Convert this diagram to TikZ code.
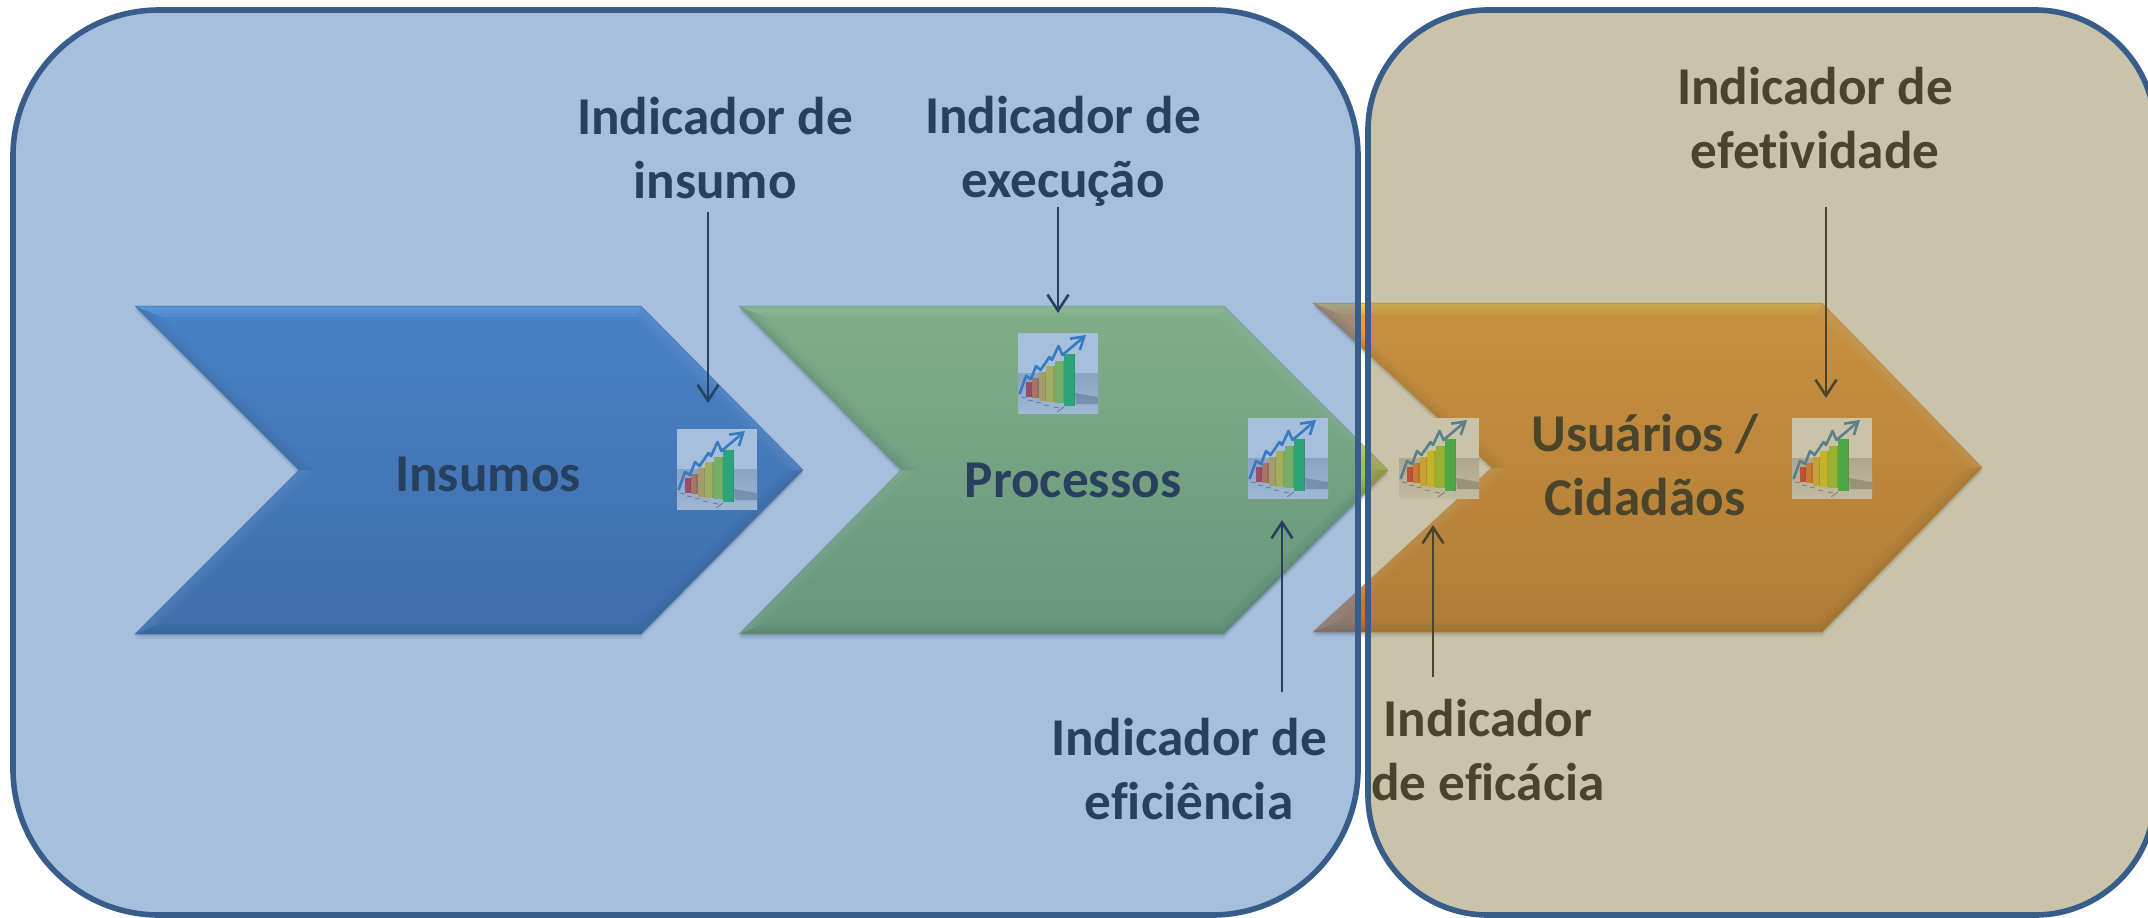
\documentclass[tikz,border=0pt]{standalone}
\usepackage{fontspec}
\setmainfont{Carlito}[Ligatures=CommonOff]
\usetikzlibrary{arrows.meta}
\definecolor{bordc}{HTML}{385D8A}
\definecolor{panelA}{HTML}{4F81BD}
\definecolor{panelB}{HTML}{948A54}
\definecolor{bluetop}{RGB}{69,131,211}\definecolor{bluebot}{RGB}{45,91,151}\definecolor{bluestrip}{RGB}{121,191,255}
\definecolor{greentop}{RGB}{181,221,81}\definecolor{greenbot}{RGB}{131,171,61}\definecolor{greenstrip}{RGB}{205,240,120}
\definecolor{orangetop}{RGB}{252,152,46}\definecolor{orangebot}{RGB}{208,112,26}\definecolor{orangestrip}{RGB}{252,222,86}
\definecolor{barA}{HTML}{E81818}\definecolor{barB}{HTML}{FF6A10}\definecolor{barC}{HTML}{FFB61A}
\definecolor{barD}{HTML}{F0DE00}\definecolor{barE}{HTML}{98DE10}\definecolor{barF}{HTML}{08C838}
\definecolor{trend}{RGB}{32,116,198}
\tikzset{
  lbl/.style={font=\fontsize{26.6}{32}\selectfont\bfseries,align=center,text=black,inner sep=0pt},
  pointer/.style={draw=black,line width=1.3pt,-{Straight Barb[length=8pt,width=10.5pt,line width=1.3pt]}},
  panel/.style={draw=bordc,line width=2.8pt},
}
% chevron: x0, xb, xtip, xnotch, ytop, ybot, colour prefix
\newcommand\chev[7]{%
  \pgfmathsetmacro\ymid{(#5+#6)/2}%
  \def\outl{(#1,#5) -- (#2,#5) -- (#3,\ymid) -- (#2,#6) -- (#1,#6) -- (#4,\ymid) -- cycle}%
  \fill[black,opacity=.09,shift={(0,5)}] \outl;
  \fill[black,opacity=.14,shift={(0,2.5)}] \outl;
  \shade[top color=#7top,bottom color=#7bot] \outl;
  \foreach \w/\op in {11/.05,7/.05,3.5/.05}{%
    \pgfmathsetmacro\ax{#1+2.414*\w}\pgfmathsetmacro\bx{#2-.414*\w}%
    \pgfmathsetmacro\tx{#3-1.414*\w}\pgfmathsetmacro\nx{#4+1.414*\w}%
    \pgfmathsetmacro\yt{#5+\w}\pgfmathsetmacro\yb{#6-\w}%
    \fill[#7strip,opacity=.3] (#1,#5) -- (#2,#5) -- (\bx,\yt) -- (\ax,\yt) -- cycle;
    \fill[white,opacity=\op] (#2,#5) -- (#3,\ymid) -- (\tx,\ymid) -- (\bx,\yt) -- cycle;
    \fill[black,opacity=\op] (#3,\ymid) -- (#2,#6) -- (\bx,\yb) -- (\tx,\ymid) -- cycle;
    \fill[black,opacity=\op] (#2,#6) -- (#1,#6) -- (\ax,\yb) -- (\bx,\yb) -- cycle;
    \fill[white,opacity=\op] (#1,#6) -- (#4,\ymid) -- (\nx,\ymid) -- (\ax,\yb) -- cycle;
    \fill[black,opacity=\op] (#4,\ymid) -- (#1,#5) -- (\ax,\yt) -- (\nx,\ymid) -- cycle;
  }%
  \draw[#7bot,line width=.5pt,opacity=.5] \outl;
}
% small chart picture, 80 x 80
\newcommand\chart[2]{%
  \begin{scope}[shift={(#1,#2)}]
    \fill[white] (0,0) rectangle (80,80);
    \shade[top color=black!22,bottom color=white!94!black] (0,40) rectangle (80,80);
    \fill[black!38] (57,60) -- (80,64) -- (80,71) -- (58,71) -- cycle;
    \foreach \xa/\xb/\ya/\yb/\cc in {8/14/49/64/barA,14/20.5/45/64.5/barB,20.5/28.3/39/68/barC,28.3/36.7/33/69/barD,36.7/46/28/70/barE,46/57.3/21/73/barF}{%
      \fill[\cc] (\xa,\ya) rectangle (\xb,\yb);
      \fill[black,opacity=.16] ({\xb-1.5},\ya) rectangle (\xb,\yb);
    }
    \foreach \xa/\ya in {3/64,10/67,18/69,26/72,36/74}{\draw[black!55,line width=.4pt] (\xa,\ya) -- ++(5,1);}
    \draw[black!55,line width=.4pt] (39,79) -- (46,74);
    \draw[draw=trend,line width=1.3pt,line join=round,
      -{Straight Barb[length=6pt,width=7.5pt,line width=1.3pt]}]
      (1.5,61) -- (8,43) -- (13,46) -- (18,33) -- (22.5,37) -- (31.5,24) -- (34,27) -- (40.5,13) -- (44.5,22) -- (68,2);
  \end{scope}%
}
\begin{document}
\begin{tikzpicture}[x=0.5pt,y=-0.5pt]
\useasboundingbox (0,0) rectangle (2148,917);
\clip (0,0) rectangle (2148,917);
\fill[white] (0,0) rectangle (2148,917);
\chev{135}{641}{803}{299}{306}{634}{blue}
\chev{739}{1224}{1388}{901}{306}{634}{green}
\chev{1313}{1822}{1982}{1492}{303}{632}{orange}
\chart{677}{429}
\chart{1018}{333}
\chart{1248}{418}
\chart{1399}{418}
\chart{1792}{418}
\node[lbl] (insumos) at (488,474) {Insumos};
\node[lbl] (processos) at (1073,480) {Processos};
\node[lbl] (usuarios) at (1645,465) {Usuários /\\Cidadãos};
\node[lbl] (tInsumo) at (715,148) {Indicador de\\insumo};
\node[lbl] (tExec) at (1063,151) {Indicador de\\execução};
\node[lbl] (tEfet) at (1815,118) {Indicador de\\efetividade};
\node[lbl] (tEfic) at (1189,769) {Indicador de\\eficiência};
\node[lbl] (tEfca) at (1488,750) {Indicador\\de eficácia};
\coordinate (pInsumo) at (708,403);
\coordinate (pExec) at (1058,313);
\coordinate (pEfic) at (1282,520);
\coordinate (pEfca) at (1433,525);
\coordinate (pEfet) at (1826,398);
\draw[pointer] (pInsumo |- 0,212) -- (pInsumo);
\draw[pointer] (pExec |- 0,207) -- (pExec);
\draw[pointer] (pEfet |- 0,207) -- (pEfet);
\draw[pointer] (pEfic |- 0,692) -- (pEfic);
\draw[pointer] (pEfca |- 0,677) -- (pEfca);
\path[panel,fill=panelA,fill opacity=.5,rounded corners=73pt] (13,10) rectangle (1358,915);
\path[panel,fill=panelB,fill opacity=.5,rounded corners=60pt] (1368,10) rectangle (2155,915);
\end{tikzpicture}
\end{document}
